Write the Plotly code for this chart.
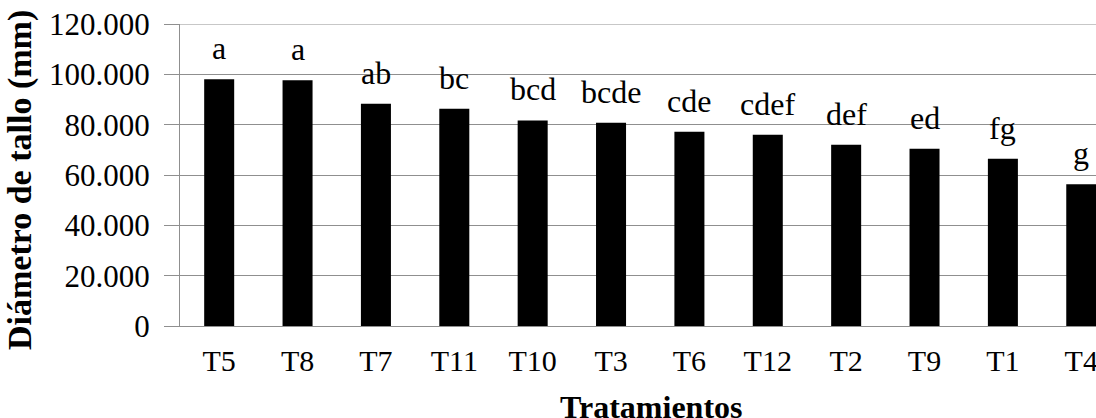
import plotly.graph_objects as go

categories = ["T5", "T8", "T7", "T11", "T10", "T3", "T6", "T12", "T2", "T9", "T1", "T4"]
values = [98.0, 97.6, 88.3, 86.3, 81.7, 80.8, 77.2, 76.0, 72.0, 70.4, 66.5, 56.3]
letters = ["a", "a", "ab", "bc", "bcd", "bcde", "cde", "cdef", "def", "ed", "fg", "g"]
y_tickvals = [0, 20, 40, 60, 80, 100, 120]
y_ticktext = ["0", "20.000", "40.000", "60.000", "80.000", "100.000", "120.000"]

FONT = "Liberation Serif"
GRID = "#8f8f8f"

fig = go.Figure()
fig.add_trace(go.Bar(
    x=categories, y=values,
    marker=dict(color="black", line=dict(width=0)),
    showlegend=False, hoverinfo="x+y",
))

for c, v, t in zip(categories, values, letters):
    fig.add_annotation(
        x=c, y=v, text=t, showarrow=False,
        xanchor="center", yanchor="bottom", yshift=11,
        font=dict(family=FONT, size=32, color="black"),
    )

# top gridline (at the upper range limit)
fig.add_shape(type="line", xref="paper", yref="y", x0=0, x1=1,
              y0=y_tickvals[-1], y1=y_tickvals[-1],
              line=dict(color=GRID, width=1), layer="below")

# Axis titles
fig.add_annotation(
    xref="paper", yref="paper", x=(651 - 180) / 916, y=-(389 - 326 - 2) / 302,
    text="<b>Tratamientos</b>", showarrow=False,
    xanchor="center", yanchor="top",
    font=dict(family=FONT, size=32, color="black"),
)
fig.add_annotation(
    xref="paper", yref="paper", x=(20 - 180) / 916, y=(326 - 180) / 302,
    text="<b>Diámetro de tallo (mm)</b>", showarrow=False, textangle=-90,
    xanchor="center", yanchor="middle",
    font=dict(family=FONT, size=34, color="black"),
)

fig.update_layout(
    width=1096, height=418,
    margin=dict(l=180, r=0, t=24, b=92, autoexpand=False),
    paper_bgcolor="white", plot_bgcolor="white",
    bargap=0.617,
    font=dict(family=FONT, color="black"),
    xaxis=dict(
        range=[-0.5, 11.188], showgrid=False, showline=True, linecolor=GRID, linewidth=1,
        ticks="", tickfont=dict(family=FONT, size=30, color="black"),
        ticklabelstandoff=8, automargin=False,
    ),
    yaxis=dict(
        range=[0, 120], tickvals=y_tickvals, ticktext=y_ticktext,
        showgrid=True, gridcolor=GRID, gridwidth=1,
        showline=True, linecolor=GRID, linewidth=1,
        ticks="outside", ticklen=15, tickcolor=GRID, tickwidth=1,
        tickfont=dict(family=FONT, size=31, color="black"),
        ticklabelstandoff=8, zeroline=False, automargin=False,
    ),
)

fig.write_html(
    "out.html",
    config={"displayModeBar": False},
    post_script="document.body.style.margin='0';document.body.style.overflow='hidden';",
)
